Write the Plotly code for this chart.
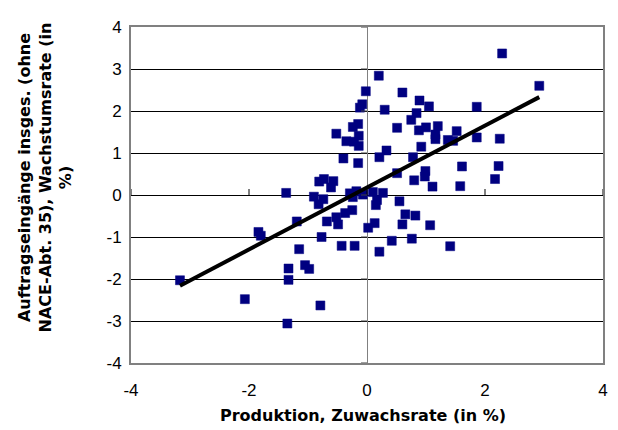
import plotly.graph_objects as go

# Data
produktion = [2.29, 0.20, 2.92, -0.02, 0.60, -0.08, -0.12, 0.89, 1.05, 0.30,
              1.86, 0.84, 0.75, -0.15, -0.24, -0.52, -0.14, -0.35, -0.22, -0.14,
              -0.40, -0.15, 0.51, 0.88, 1.00, 1.20, 1.16, 1.16, 1.52, 1.37,
              1.46, 1.86, 2.25, 0.92, 0.33, 0.21, 0.78, 1.61, 2.23, 0.51,
              0.99, 0.98, 0.80, 2.17, 1.11, 1.58, -0.81, -0.73, -0.57, -0.61,
              -1.37, -0.90, -0.74, -0.82, -0.29, -0.18, -0.24, -0.07, 0.15, 0.17,
              0.27, 0.55, 0.65, 0.82, 0.13, 0.02, 0.60, 1.07, 0.42, 0.76,
              0.21, 1.41, -1.19, -0.68, -0.52, -0.49, -0.37, -0.25, -0.77, -1.15,
              -0.43, -0.21, -1.33, -1.05, -0.98, -1.33, -3.17, -1.84, -1.80, -2.07,
              -1.35, -0.79, 0.10]
auftrag = [3.37, 2.84, 2.60, 2.47, 2.44, 2.16, 2.08, 2.25, 2.11, 2.03,
           2.10, 1.95, 1.79, 1.69, 1.62, 1.46, 1.41, 1.28, 1.27, 1.17,
           0.87, 0.76, 1.60, 1.54, 1.61, 1.64, 1.44, 1.33, 1.52, 1.31,
           1.29, 1.37, 1.34, 1.15, 1.06, 0.90, 0.90, 0.68, 0.69, 0.52,
           0.57, 0.44, 0.35, 0.38, 0.20, 0.21, 0.32, 0.38, 0.33, 0.18,
           0.05, -0.04, -0.10, -0.22, 0.04, 0.09, -0.05, 0.01, -0.24, -0.12,
           0.05, -0.15, -0.46, -0.49, -0.67, -0.78, -0.70, -0.72, -1.09, -1.04,
           -1.35, -1.22, -0.63, -0.63, -0.53, -0.70, -0.43, -0.36, -1.00, -1.29,
           -1.21, -1.21, -1.75, -1.67, -1.76, -2.02, -2.03, -0.88, -0.97, -2.48,
           -3.06, -2.63, 0.07]

trend_x = [-3.17, 2.92]
trend_y = [-2.16, 2.33]

x_ticks = [-4, -2, 0, 2, 4]
x_tick_labels = ["-4", "-2", "0", "2", "4"]
y_ticks = [-4, -3, -2, -1, 0, 1, 2, 3, 4]
y_tick_labels = ["-4", "-3", "-2", "-1", "0", "1", "2", "3", "4"]

x_title = "Produktion, Zuwachsrate (in %)"
y_title = "Auftragseingänge insges. (ohne<br>NACE-Abt. 35), Wachstumsrate (in<br>%)"

FONT = "Liberation Sans, Arial, sans-serif"
TITLE_FONT = "DejaVu Sans, Liberation Sans, Arial, sans-serif"

fig = go.Figure()
fig.add_trace(go.Scatter(
    x=produktion, y=auftrag, mode="markers",
    marker=dict(symbol="square", size=9, color="#000080",
                line=dict(color="#000080", width=0.5)),
    showlegend=False, hoverinfo="x+y"))
fig.add_trace(go.Scatter(
    x=trend_x, y=trend_y, mode="lines",
    line=dict(color="black", width=4),
    showlegend=False, hoverinfo="skip"))

shapes = []
for tv in x_ticks:
    shapes.append(dict(type="line", xref="x", yref="y", x0=tv, x1=tv,
                       ysizemode="pixel", yanchor=0, y0=0, y1=6,
                       line=dict(color="black", width=1), layer="above"))
for tv in y_ticks:
    shapes.append(dict(type="line", xref="x", yref="y", y0=tv, y1=tv,
                       xsizemode="pixel", xanchor=0, x0=-6, x1=0,
                       line=dict(color="#404040", width=1), layer="above"))

# The page body keeps its default 8px margin, so the figure is 8px smaller
fig.update_layout(
    width=610, height=422,
    margin=dict(l=123, r=13, t=10, b=67),
    paper_bgcolor="white", plot_bgcolor="white",
    font=dict(family=FONT, size=17, color="black"),
    shapes=shapes,
    xaxis=dict(range=[-4, 4], tickvals=x_ticks, ticktext=x_tick_labels,
               showgrid=False, ticklabeloverflow="allow",
               zeroline=True, zerolinecolor="#808080", zerolinewidth=1,
               showline=True, linecolor="#808080", linewidth=2, mirror=True,
               ticks="outside", ticklen=11, tickcolor="rgba(0,0,0,0)",
               tickfont=dict(size=17)),
    yaxis=dict(range=[-4, 4], tickvals=y_ticks, ticktext=y_tick_labels,
               showgrid=True, gridcolor="black", gridwidth=1,
               ticklabeloverflow="allow",
               zeroline=True, zerolinecolor="black", zerolinewidth=1,
               showline=True, linecolor="#808080", linewidth=2, mirror=True,
               ticks="outside", ticklen=4, tickcolor="rgba(0,0,0,0)",
               tickfont=dict(size=17)),
    annotations=[
        dict(text="<b>" + x_title + "</b>", xref="paper", yref="paper",
             x=0.492, y=-0.155, xanchor="center", yanchor="middle",
             showarrow=False, font=dict(family=TITLE_FONT, size=16)),
        dict(text="<b>" + y_title + "</b>", xref="paper", yref="paper",
             x=-0.181, y=0.551, xanchor="center", yanchor="middle",
             textangle=-90, showarrow=False,
             font=dict(family=TITLE_FONT, size=16)),
    ],
)

fig.write_html("out.html")
